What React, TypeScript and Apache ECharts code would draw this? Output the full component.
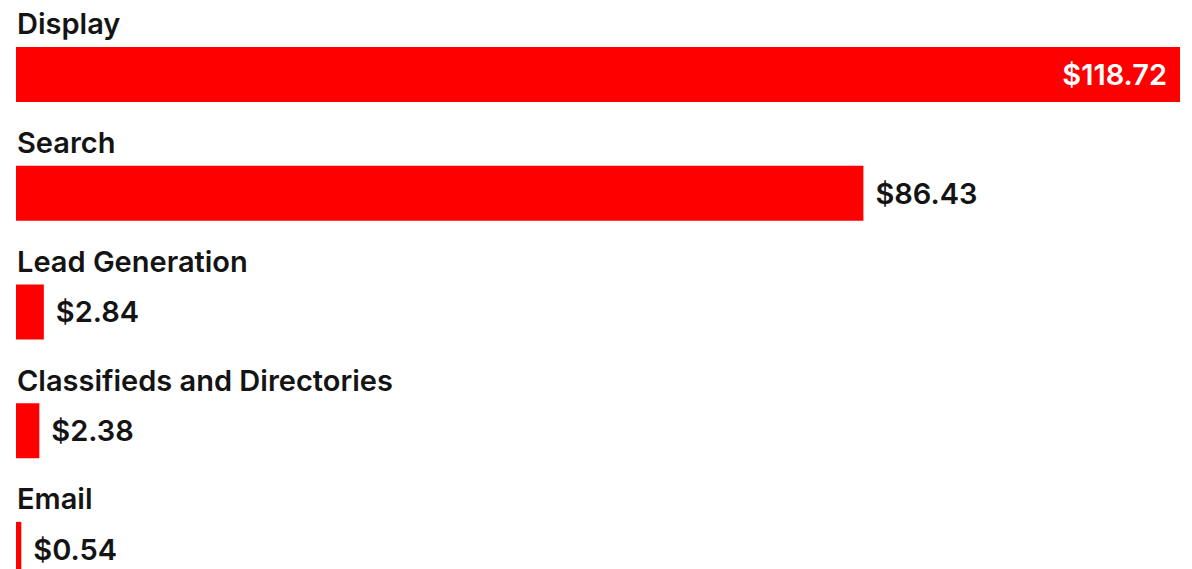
import React, { useEffect, useRef } from "react";
import * as echarts from "echarts";

const categories = ["Display", "Search", "Lead Generation", "Classifieds and Directories", "Email"];
const values = [118.72, 86.43, 2.84, 2.38, 0.54];
const valueLabels = ["$118.72", "$86.43", "$2.84", "$2.38", "$0.54"];

const FONT = "Inter";

export default function App() {
  const ref = useRef<HTMLDivElement>(null);
  useEffect(() => {
    if (!ref.current) return;
    const chart = echarts.init(ref.current, undefined, { renderer: "svg" });
    const maxV = values[0];
    chart.setOption({
      animation: false,
      backgroundColor: "#ffffff",
      grid: { left: 16, top: 15, width: 1164, height: 593.75 },
      xAxis: { type: "value", min: 0, max: maxV, show: false },
      yAxis: {
        type: "category",
        data: categories,
        inverse: true,
        show: false,
      },
      series: [
        {
          type: "bar",
          data: values.map((v, i) => ({
            value: v,
            label: {
              show: true,
              position: i === 0 ? "insideRight" : "right",
              distance: i === 0 ? 13 : 12,
              formatter: () => valueLabels[i],
              color: i === 0 ? "#ffffff" : "#141414",
              fontFamily: FONT,
              fontWeight: 600,
              fontSize: 29,
            },
          })),
          barWidth: 55,
          itemStyle: { color: "#fe0000" },
          silent: true,
        },
        {
          type: "bar",
          data: values,
          barWidth: 55,
          barGap: "-100%",
          itemStyle: { color: "transparent" },
          silent: true,
          z: 3,
          label: {
            show: true,
            position: [1, -23],
            align: "left",
            verticalAlign: "middle",
            formatter: (p: any) => categories[p.dataIndex],
            color: "#141414",
            fontFamily: FONT,
            fontWeight: 600,
            fontSize: 29,
          },
        },
      ],
    });
    return () => chart.dispose();
  }, []);
  return (
    <div style={{ position: "absolute", left: 0, top: 0, width: 1192, height: 569, overflow: "hidden", background: "#fff" }}>
      <div ref={ref} style={{ width: 1192, height: 640 }} />
    </div>
  );
}
